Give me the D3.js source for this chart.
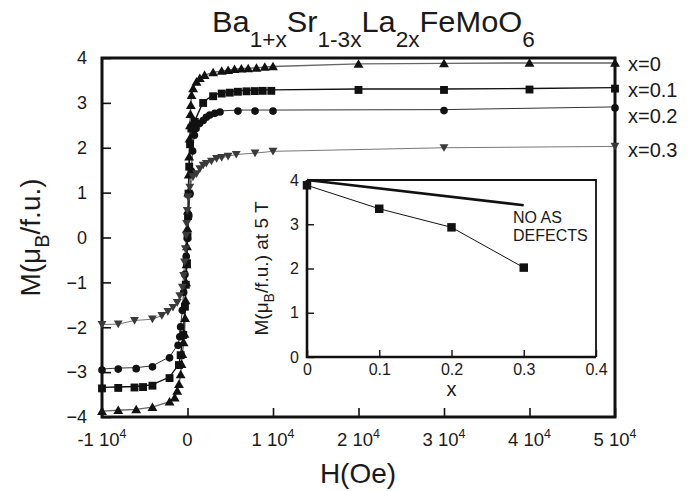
<!DOCTYPE html>
<html><head><meta charset="utf-8">
<script src="https://cdn.jsdelivr.net/npm/d3@7"></script>
<style>
body{margin:0;background:#fff}
svg{display:block}
text{font-family:"Liberation Sans",Arial,Helvetica,sans-serif;fill:#1a1a1a}
</style>
</head><body>
<svg id="c" width="696" height="491"></svg>
<script>
// ---------- data ----------
const seriesNames = ["x=0", "x=0.1", "x=0.2", "x=0.3"];
// M (muB/f.u.) vs H (Oe)
const serX0 = [[-10000,-3.87],[-8100,-3.85],[-6000,-3.83],[-4100,-3.78],[-2100,-3.66],[-1500,-3.57],[-1200,-3.42],[-1000,-3.27],[-800,-3.05],[-700,-2.82],[-600,-2.6],[-450,-2.34],[-350,-2.15],[-280,-1.8],[-220,-1.4],[-160,-1.0],[-110,-0.6],[-60,-0.2],[-10,0.2],[40,0.6],[90,1.0],[140,1.4],[190,1.8],[240,2.2],[290,2.5],[340,2.75],[390,2.95],[470,3.17],[660,3.32],[1050,3.47],[1440,3.55],[2000,3.62],[3000,3.68],[4000,3.71],[4750,3.73],[5500,3.75],[6300,3.76],[7100,3.77],[8070,3.78],[9040,3.80],[10000,3.81],[20000,3.87],[30000,3.88],[40000,3.89],[50000,3.89]];
const serX1 = [[-10000,-3.34],[-8100,-3.33],[-6200,-3.32],[-5200,-3.31],[-4100,-3.28],[-2100,-3.11],[-1000,-2.82],[-800,-2.6],[-500,-2.15],[-300,-1.52],[-200,-1.03],[-60,-0.55],[0,0.05],[60,0.5],[120,1.0],[200,1.6],[300,2.1],[450,2.45],[850,2.6],[1830,3.02],[3000,3.17],[4000,3.23],[4950,3.25],[5900,3.27],[6900,3.28],[7870,3.285],[8800,3.29],[9800,3.29],[20000,3.31],[30000,3.31],[40000,3.32],[50000,3.34]];
const serX2 = [[-10000,-2.93],[-8100,-2.91],[-6000,-2.90],[-4100,-2.86],[-2100,-2.66],[-1100,-2.38],[-900,-2.19],[-800,-1.97],[-600,-1.6],[-450,-1.2],[-300,-0.8],[-150,-0.4],[0,0.0],[150,0.5],[300,1.0],[450,1.5],[600,1.95],[800,2.3],[1000,2.45],[1400,2.56],[1830,2.63],[2200,2.70],[2600,2.75],[3200,2.79],[3800,2.82],[5900,2.84],[7900,2.84],[10000,2.84],[30000,2.85],[50000,2.91]];
const serX3 = [[-10000,-1.94],[-8100,-1.93],[-6200,-1.85],[-4100,-1.82],[-3000,-1.74],[-2300,-1.65],[-1700,-1.56],[-1200,-1.45],[-900,-1.30],[-600,-1.11],[-450,-0.85],[-350,-0.55],[-250,-0.25],[-150,0.05],[-100,0.31],[-30,0.6],[70,0.9],[270,1.12],[650,1.35],[1050,1.42],[1440,1.53],[1830,1.61],[2200,1.65],[2800,1.70],[3400,1.76],[4000,1.78],[4750,1.81],[5700,1.85],[7900,1.88],[10000,1.92],[30000,2.00],[50000,2.03]];
const hTicks = [-10000, 0, 10000, 20000, 30000, 40000, 50000];
const mTicks = [-4, -3, -2, -1, 0, 1, 2, 3, 4];
// inset: M at 5 T vs x
const insetX = [0, 0.1, 0.2, 0.3];
const insetM = [3.88, 3.35, 2.93, 2.02];
const noDefectX = [0, 0.3];
const noDefectM = [4.0, 3.43];
const insetXTicks = [0, 0.1, 0.2, 0.3, 0.4];
const insetYTicks = [0, 1, 2, 3, 4];

// ---------- layout ----------
const svg = d3.select("#c");
const L = 102, R = 615, T = 58, B = 417;
const x = d3.scaleLinear().domain([-10000, 50000]).range([L, R]);
const y = d3.scaleLinear().domain([-4, 4]).range([B, T]);

// title
const title = svg.append("text").attr("font-size", 30);
const parts = [["Ba",0],["1+x",1],["Sr",0],["1-3x",1],["La",0],["2x",1],["FeMoO",0],["6",1]];
let prev = 0;
parts.forEach(([t, sub]) => {
  const dy = sub ? 15 : (prev ? -15 : 0);
  title.append("tspan").attr("dy", dy).attr("font-size", sub ? 22 : 30).text(t);
  prev = sub;
});
title.attr("x", 0).attr("y", 0);
const tw = title.node().getComputedTextLength();
title.attr("transform", `translate(212,32) scale(${323 / tw},1)`);

// minor / major ticks (inward)
const gx = svg.append("g").attr("transform", `translate(0,${B})`);
gx.call(d3.axisBottom(x).tickValues(d3.range(-5, 26).map(i => i * 2000)).tickSize(-4.5).tickFormat(""));
gx.call(d3.axisBottom(x).tickValues(hTicks).tickSize(-9).tickPadding(19).tickFormat(""));
gx.selectAll(".domain").remove();
gx.selectAll("line").attr("stroke", "#111").attr("stroke-width", 1.6);
// x tick labels with superscripts
const xl = svg.append("g");
hTicks.forEach(v => {
  const t = xl.append("text").attr("x", x(v)).attr("y", 446).attr("font-size", 18.5).attr("text-anchor", "middle");
  if (v === 0) { t.text("0"); }
  else {
    t.append("tspan").text(`${v / 10000} 10`);
    t.append("tspan").attr("dy", -8).attr("font-size", 12.5).text("4");
  }
});

const gy = svg.append("g").attr("transform", `translate(${L},0)`);
gy.call(d3.axisLeft(y).tickValues(d3.range(-20, 21).map(i => i / 5)).tickSize(-6).tickFormat(""));
gy.call(d3.axisLeft(y).tickValues(mTicks).tickSize(-9).tickPadding(15).tickFormat(d3.format("d")));
gy.selectAll(".domain").remove();
gy.selectAll("line").attr("stroke", "#111").attr("stroke-width", 1.6);
gy.selectAll("text").attr("font-size", 18).attr("font-family", "Liberation Sans, Arial, sans-serif").attr("fill", "#1a1a1a");

// frame
svg.append("rect").attr("x", L).attr("y", T).attr("width", R - L).attr("height", B - T)
  .attr("fill", "none").attr("stroke", "#111").attr("stroke-width", 3);

// axis labels
svg.append("text").attr("x", 358).attr("y", 483).attr("text-anchor", "middle").attr("font-size", 28).text("H(Oe)");
const yl = svg.append("text").attr("transform", `translate(40,${(T + B) / 2}) rotate(-90)`).attr("text-anchor", "middle").attr("font-size", 28);
yl.append("tspan").text("M(μ");
yl.append("tspan").attr("dy", 9).attr("font-size", 20).text("B");
yl.append("tspan").attr("dy", -9).text("/f.u.)");

// series
const series = [
  {data: serX0, sym: d3.symbolTriangle, size: 42, rot: 0, fill: "#111", line: "#666", lw: 1.4},
  {data: serX1, sym: d3.symbolSquare, size: 62, rot: 0, fill: "#111", line: "#111", lw: 1.4},
  {data: serX2, sym: d3.symbolCircle, size: 46, rot: 0, fill: "#111", line: "#333", lw: 1.0},
  {data: serX3, sym: d3.symbolTriangle, size: 34, rot: 180, fill: "#3a3a3a", line: "#777", lw: 1.0}
];
const line = d3.line().x(d => x(d[0])).y(d => y(d[1]));
series.forEach(s => {
  svg.append("path").attr("d", line(s.data)).attr("fill", "none").attr("stroke", s.line).attr("stroke-width", s.lw);
});
series.forEach(s => {
  svg.append("g").selectAll("path").data(s.data).join("path")
    .attr("d", d3.symbol().type(s.sym).size(s.size))
    .attr("transform", d => `translate(${x(d[0])},${y(d[1]) + (s.rot ? -1 : 1)}) rotate(${s.rot})`)
    .attr("fill", s.fill);
});

// legend labels at right
const legY = [71, 97, 123, 157];
seriesNames.forEach((n, i) => {
  svg.append("text").attr("x", 628).attr("y", legY[i]).attr("font-size", 20).text(n);
});

// ---------- inset ----------
const iL = 307, iR = 596, iT = 180, iB = 357;
const ix = d3.scaleLinear().domain([0, 0.4]).range([iL, iR]);
const iy = d3.scaleLinear().domain([0, 4]).range([iB, iT]);
svg.append("rect").attr("x", iL).attr("y", iT).attr("width", iR - iL).attr("height", iB - iT).attr("fill", "#fff");

const igx = svg.append("g").attr("transform", `translate(0,${iB})`);
igx.call(d3.axisBottom(ix).tickValues(d3.range(0, 21).map(i => i / 50)).tickSize(-3.5).tickFormat(""));
igx.call(d3.axisBottom(ix).tickValues(insetXTicks).tickSize(-7).tickPadding(7).tickFormat(d => d === 0 ? "0" : d3.format(".1f")(d)));
igx.selectAll(".domain").remove();
igx.selectAll("line").attr("stroke", "#111").attr("stroke-width", 1.4);
igx.selectAll("text").attr("font-size", 16).attr("font-family", "Liberation Sans, Arial, sans-serif").attr("fill", "#1a1a1a");

const igy = svg.append("g").attr("transform", `translate(${iL},0)`);
igy.call(d3.axisLeft(iy).tickValues(d3.range(0, 21).map(i => i / 5)).tickSize(-4).tickFormat(""));
igy.call(d3.axisLeft(iy).tickValues(insetYTicks).tickSize(-7).tickPadding(8).tickFormat(d3.format("d")));
igy.selectAll(".domain").remove();
igy.selectAll("line").attr("stroke", "#111").attr("stroke-width", 1.4);
igy.selectAll("text").attr("font-size", 16).attr("font-family", "Liberation Sans, Arial, sans-serif").attr("fill", "#1a1a1a");

// inset frame: thin top/right, thick left/bottom
svg.append("path").attr("d", `M${iL},${iT}H${iR}V${iB}`).attr("fill", "none").attr("stroke", "#111").attr("stroke-width", 1.8);
svg.append("path").attr("d", `M${iL},${iT}V${iB}H${iR}`).attr("fill", "none").attr("stroke", "#111").attr("stroke-width", 2.6);

const iline = d3.line().x(d => ix(d[0])).y(d => iy(d[1]));
svg.append("path").attr("d", iline(d3.zip(noDefectX, noDefectM))).attr("fill", "none").attr("stroke", "#111").attr("stroke-width", 2.6);
svg.append("path").attr("d", iline(d3.zip(insetX, insetM))).attr("fill", "none").attr("stroke", "#111").attr("stroke-width", 1);
svg.append("g").selectAll("path").data(d3.zip(insetX, insetM)).join("path")
  .attr("d", d3.symbol().type(d3.symbolSquare).size(72))
  .attr("transform", d => `translate(${ix(d[0])},${iy(d[1])})`).attr("fill", "#111");

svg.append("text").attr("x", 513).attr("y", 223).attr("font-size", 16).text("NO AS");
svg.append("text").attr("x", 513).attr("y", 241).attr("font-size", 16).text("DEFECTS");

svg.append("text").attr("x", (iL + iR) / 2).attr("y", 396).attr("text-anchor", "middle").attr("font-size", 20).text("x");
const iyl = svg.append("text").attr("transform", `translate(268,${(iT + iB) / 2}) rotate(-90)`).attr("text-anchor", "middle").attr("font-size", 19);
iyl.append("tspan").text("M(μ");
iyl.append("tspan").attr("dy", 6).attr("font-size", 14).text("B");
iyl.append("tspan").attr("dy", -6).text("/f.u.) at 5 T");
</script>
</body></html>
